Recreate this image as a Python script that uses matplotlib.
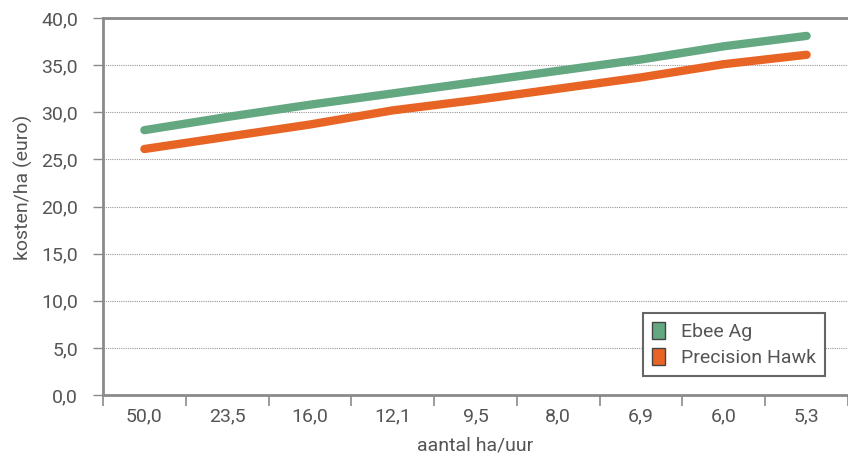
import matplotlib.pyplot as plt
import numpy as np

# data
categories = ["50,0", "23,5", "16,0", "12,1", "9,5", "8,0", "6,9", "6,0", "5,3"]
ebee_ag = [28.1, 29.5, 30.8, 32.0, 33.2, 34.4, 35.6, 37.0, 38.1]
precision_hawk = [26.1, 27.4, 28.7, 30.2, 31.3, 32.5, 33.7, 35.1, 36.1]
y_ticks = [0, 5, 10, 15, 20, 25, 30, 35, 40]

GREEN = '#64a882'
ORANGE = '#e86424'
TEXT = '#555555'
SPINE = '#8a8a8a'

plt.rcParams.update({
    'font.family': ['Roboto', 'DejaVu Sans'],
    'text.color': TEXT,
    'xtick.color': SPINE,
    'ytick.color': SPINE,
    'xtick.labelcolor': TEXT,
    'ytick.labelcolor': TEXT,
})

fig = plt.figure(figsize=(8.48, 4.59), dpi=100)
ax = fig.add_axes([103 / 848, 1 - 395 / 459, 1 - 103 / 848, (395 - 18) / 459])

x = np.arange(len(categories))
ax.plot(x, ebee_ag, color=GREEN, lw=6, solid_capstyle='round', label="Ebee Ag")
ax.plot(x, precision_hawk, color=ORANGE, lw=6, solid_capstyle='round', label="Precision Hawk")

ax.set_xlim(-0.5, 8.47)
ax.set_ylim(0, 40)

# category labels in the middle, tick marks on the boundaries
ax.set_xticks(x)
ax.set_xticklabels(categories, fontsize=14)
ax.tick_params(axis='x', which='major', length=0, pad=9)
ax.set_xticks(np.arange(-0.5, len(categories), 1.0), minor=True)
ax.tick_params(axis='x', which='minor', length=8, width=1.2, direction='out')

ax.set_yticks(y_ticks)
ax.set_yticklabels([f"{v:.1f}".replace('.', ',') for v in y_ticks], fontsize=14)
ax.tick_params(axis='y', length=7, width=1.0, pad=11)

ax.yaxis.grid(True, linestyle=(0, (1, 1)), color='#999999', linewidth=0.8)
ax.set_axisbelow(True)

for side in ['left', 'bottom', 'top']:
    ax.spines[side].set_color(SPINE)
    ax.spines[side].set_linewidth(2)
ax.spines['right'].set_visible(False)

ax.set_ylabel("kosten/ha (euro)", fontsize=14, color=TEXT, labelpad=6)
ax.yaxis.label.set_y(0.55)
ax.set_xlabel("aantal ha/uur", fontsize=14, color=TEXT, labelpad=8)

handles = [plt.Rectangle((0, 0), 1, 1, facecolor=GREEN, edgecolor='#444444', lw=1),
           plt.Rectangle((0, 0), 1, 1, facecolor=ORANGE, edgecolor='#444444', lw=1)]
leg = ax.legend(handles, ["Ebee Ag", "Precision Hawk"], loc='upper left',
                bbox_to_anchor=(643 / 848, 1 - 313 / 459), bbox_transform=fig.transFigure,
                fontsize=14, fancybox=False, framealpha=1, edgecolor='#666666',
                handlelength=0.7, handleheight=1.0, handletextpad=0.8,
                borderpad=0.45, labelspacing=0.35, borderaxespad=0)
leg.get_frame().set_linewidth(1.5)
for t in leg.get_texts():
    t.set_color(TEXT)

fig.savefig("out.png", dpi=100)
